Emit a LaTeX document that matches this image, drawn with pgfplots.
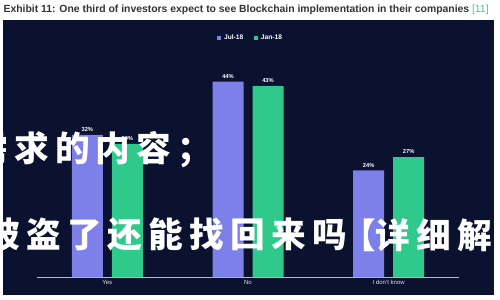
\documentclass[border=0pt]{standalone}
\usepackage{pgfplots}
\pgfplotsset{compat=1.18}
\usepackage{fontspec}
\setmainfont{Liberation Sans}
\newfontfamily\cjk{Noto Sans CJK SC}[LetterSpace=18]
\definecolor{panel}{HTML}{0A1230}
\definecolor{jul}{HTML}{7C80E8}
\definecolor{jan}{HTML}{2FC98C}
\definecolor{titlegray}{HTML}{333333}
\definecolor{refteal}{HTML}{3FC4B0}
\begin{document}
\begin{tikzpicture}
\useasboundingbox (0,0) rectangle (375pt,225pt);
\fill[white] (0,0) rectangle (375pt,225pt);
\fill[panel] (2.25pt,3.75pt) rectangle (370.5pt,210pt);
\node[anchor=west, inner sep=0pt, text=titlegray, font=\fontsize{7.8pt}{9pt}\selectfont\bfseries]
  at (2.5pt,217.5pt) {Exhibit 11: One third of investors expect to see Blockchain implementation in their companies \textcolor{refteal}{\mdseries[11]}};
\begin{axis}[
  at={(27.75pt,17.25pt)}, anchor=south west,
  scale only axis, width=316.5pt, height=166.5pt,
  xmin=-0.5, xmax=2.5, ymin=0, ymax=50,
  ybar=6.75pt, bar width=23.25pt,
  axis y line=none, axis x line*=bottom,
  x axis line style={draw=gray!55, line width=0.5pt},
  xtick={0,1,2}, xticklabels={Yes,No,I don't know},
  major tick length=0pt,
  /pgf/number format/assume math mode=true,
  xticklabel style={text=white!80!gray, font=\fontsize{4.5pt}{5pt}\selectfont, yshift=1pt},
  nodes near coords={\pgfmathprintnumber{\pgfplotspointmeta}\%},
  every node near coord/.append style={text=white, font=\fontsize{4.3pt}{5pt}\selectfont\bfseries, yshift=-1pt},
  legend columns=2,
  legend style={at={(0.507,1.077)}, anchor=center, draw=none, fill=none,
    text=white, font=\fontsize{5pt}{6pt}\selectfont\bfseries,
    /tikz/every even column/.append style={column sep=6pt}},
  legend image code/.code={\fill[#1, draw=none] (0pt,-1.6pt) rectangle (3.2pt,1.6pt);},
]
\addplot[fill=jul, draw=none] coordinates {(0,32) (1,44) (2,24)};
\addplot[fill=jan, draw=none] coordinates {(0,30) (1,43) (2,27)};
\legend{Jul-18, Jan-18}
\end{axis}
% overlaid caption lines
\tikzset{cjkline/.style={inner sep=0pt, text=white, font=\cjk\bfseries\fontsize{26pt}{26pt}\selectfont}}
\node[cjkline, anchor=west] at (-20.25pt,112.5pt) {需求的内容；};
\node[cjkline, anchor=west] at (-11.25pt,48.75pt) {被盗了还能找回来吗};
\node[cjkline, anchor=east] at (282pt,48.75pt) {【};
\node[cjkline, anchor=west] at (281.25pt,48.75pt) {详细解};
\end{tikzpicture}
\end{document}
